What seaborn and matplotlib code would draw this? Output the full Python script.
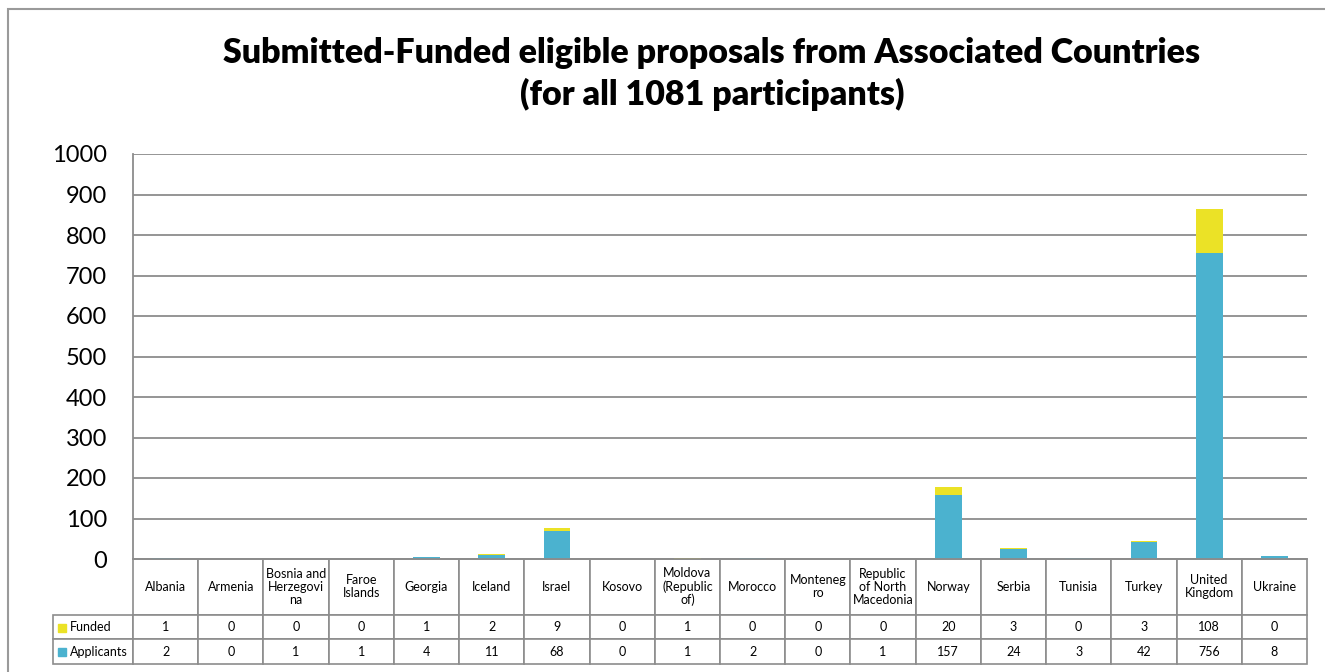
import matplotlib
matplotlib.use("Agg")
import matplotlib.pyplot as plt
from matplotlib.patches import Rectangle
import seaborn as sns
import pandas as pd

countries = ['Albania', 'Armenia', 'Bosnia and Herzegovina', 'Faroe Islands', 'Georgia',
             'Iceland', 'Israel', 'Kosovo', 'Moldova (Republic of)', 'Morocco', 'Montenegro',
             'Republic of North Macedonia', 'Norway', 'Serbia', 'Tunisia', 'Turkey',
             'United Kingdom', 'Ukraine']
# wrapped the way Excel shows them in the data table
col_labels = ['Albania', 'Armenia', 'Bosnia and\nHerzegovi\nna', 'Faroe\nIslands', 'Georgia',
              'Iceland', 'Israel', 'Kosovo', 'Moldova\n(Republic\nof)', 'Morocco', 'Monteneg\nro',
              'Republic\nof North\nMacedonia', 'Norway', 'Serbia', 'Tunisia', 'Turkey',
              'United\nKingdom', 'Ukraine']
funded = [1, 0, 0, 0, 1, 2, 9, 0, 1, 0, 0, 0, 20, 3, 0, 3, 108, 0]
applicants = [2, 0, 1, 1, 4, 11, 68, 0, 1, 2, 0, 1, 157, 24, 3, 42, 756, 8]
y_ticks = list(range(0, 1001, 100))

BLUE = '#4bb2cf'
YELLOW = '#ebe226'
GRID = '#8c8c8c'

sns.set_style("white")
plt.rcParams['font.family'] = ['Lato', 'DejaVu Sans']
plt.rcParams['text.color'] = 'black'
plt.rcParams['ytick.labelcolor'] = 'black'

df = pd.DataFrame({'country': countries, 'Funded': funded, 'Applicants': applicants})
df['total'] = df['Funded'] + df['Applicants']

W, H = 1325, 672
fig = plt.figure(figsize=(W / 100, H / 100), dpi=100)
ax = fig.add_axes([133 / W, 1 - 559 / H, 1174 / W, 405 / H])

# stacked: total in yellow, applicants in blue over it
sns.barplot(data=df, x='country', y='total', color=YELLOW, width=0.41,
            saturation=1, errorbar=None, linewidth=0, ax=ax)
sns.barplot(data=df, x='country', y='Applicants', color=BLUE, width=0.41,
            saturation=1, errorbar=None, linewidth=0, ax=ax)

ax.set_xlim(-0.5, len(countries) - 0.5)
ax.set_ylim(0, 1000)
ax.set_yticks(y_ticks)
ax.set_xlabel('')
ax.set_ylabel('')
ax.grid(axis='y', color=GRID, linewidth=1.3)
ax.set_axisbelow(True)
for side in ['top', 'right']:
    ax.spines[side].set_visible(False)
for side in ['left', 'bottom']:
    ax.spines[side].set_color(GRID)
    ax.spines[side].set_linewidth(1.3)
ax.tick_params(axis='y', length=6, width=1.3, color=GRID, labelsize=17, pad=12.5,
               labelcolor='black')
ax.tick_params(axis='x', bottom=False, labelbottom=False)

# data table under the chart
cell_text = [[str(v) for v in funded], [str(v) for v in applicants]]
tbl = ax.table(cellText=cell_text, rowLabels=['Funded', 'Applicants'], colLabels=col_labels,
               cellLoc='center', rowLoc='left', colWidths=[1 / 18] * 18,
               bbox=[0, -105 / 405, 1, 105 / 405])
tbl._autoColumns = []
tbl.auto_set_font_size(False)
tbl.set_fontsize(9)
for (r, c), cell in tbl.get_celld().items():
    cell.set_edgecolor(GRID)
    cell.set_linewidth(1.2)
    cell.set_height(55 if r == 0 else 24.5)
    cell.get_text().set_color('black')
    if r == 0:
        cell.get_text().set_linespacing(1.1)
    if c == -1:
        cell.set_width(80 / 1174)
        cell.PAD = 17 / 80

# legend keys in the row label cells
fig.add_artist(Rectangle((58 / W, 1 - 632 / H), 8 / W, 8 / H, color=YELLOW,
                         transform=fig.transFigure))
fig.add_artist(Rectangle((58 / W, 1 - 656 / H), 8 / W, 8 / H, color=BLUE,
                         transform=fig.transFigure))

fig.text(712 / W, 1 - 74 / H,
         'Submitted-Funded eligible proposals from Associated Countries\n(for all 1081 participants)',
         ha='center', va='center', fontsize=24.5, fontweight='heavy', color='black',
         linespacing=1.3)

# chart area border (left and top visible in the crop)
fig.add_artist(Rectangle((8 / W, -0.1), 1.2, 1.1 - 9 / H, fill=False,
                         edgecolor='#9a9a9a', linewidth=1.5, transform=fig.transFigure))

fig.savefig('out.png', dpi=100)
